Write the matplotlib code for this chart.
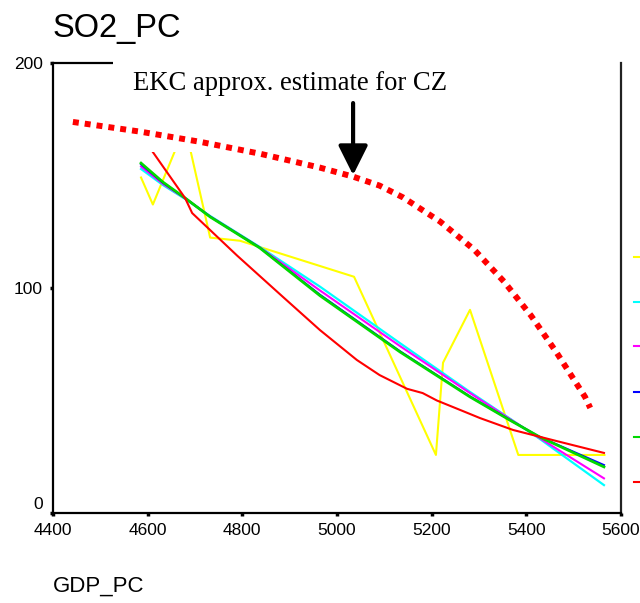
import matplotlib
matplotlib.use("Agg")
import matplotlib.pyplot as plt
from matplotlib.patches import Rectangle
from matplotlib.lines import Line2D
from matplotlib.transforms import ScaledTranslation

# ---------------- data ----------------
X_TICKS = [4400, 4600, 4800, 5000, 5200, 5400, 5600]
Y_TICKS = [0, 100, 200]

# observed series (yellow)
obs_x = [4586, 4611, 4679, 4732, 4795, 5036, 5209, 5224, 5281, 5383, 5565]
obs_y = [149.1, 137.1, 171.8, 122.4, 121.0, 105.0, 25.8, 66.8, 90.3, 25.8, 25.8]

# fitted series
fit_x = [4586, 4632, 4679, 4732, 4837, 4964, 5133, 5281, 5365, 5428, 5564]
cyan_y = [152.9, 145.8, 139.6, 132.0, 118.2, 100.6, 75.5, 53.8, 42.0, 33.0, 12.4]
magenta_y = [154.0, 146.3, 139.8, 131.8, 118.0, 98.9, 74.2, 53.3, 41.8, 33.3, 15.4]
blue_y = [155.0, 146.8, 140.0, 131.7, 117.9, 97.0, 71.9, 51.8, 41.4, 33.8, 21.3]
green_y = [155.5, 147.1, 140.0, 131.6, 117.8, 96.6, 71.6, 51.6, 41.3, 33.8, 20.5]

red_x = [4611, 4679, 4694, 4789, 4886, 4964, 5042, 5090, 5148, 5181, 5211, 5266,
         5302, 5372, 5456, 5564]
red_y = [160.4, 140.0, 133.3, 114.4, 96.0, 81.3, 68.0, 61.3, 55.2, 53.3, 50.0, 45.3,
         42.2, 36.9, 32.4, 26.7]

# EKC approximate estimate (dotted red curve)
ekc_x = [4442, 4584, 4710, 4837, 4964, 5034, 5090, 5140, 5218, 5290, 5353, 5410,
         5463, 5524, 5535]
ekc_y = [173.8, 169.5, 165.0, 159.7, 153.5, 149.5, 145.5, 140.2, 129.5, 117.0, 102.8,
         87.7, 71.6, 51.6, 46.7]
arrow_x = 5034
arrow_tip_y = 150.2
arrow_top_y = 182.2

series_colors = ['#FFFF00', '#00FFFF', '#FF00FF', '#0000FF', '#00D800', '#FF0000']

# ---------------- figure ----------------
W, H = 640, 603
fig = plt.figure(figsize=(W / 100, H / 100), dpi=100)
fig.patch.set_facecolor('white')
ax = fig.add_axes([53 / W, 1 - 513 / H, (621 - 53) / W, (513 - 63) / H])
ax.set_xlim(4400, 5600)
ax.set_ylim(0, 200)

fam = ['Liberation Sans', 'DejaVu Sans']

ax.plot(obs_x, obs_y, color=series_colors[0], lw=1.5, zorder=2)
ax.plot(fit_x, cyan_y, color=series_colors[1], lw=1.6, zorder=2)
ax.plot(fit_x, magenta_y, color=series_colors[2], lw=1.5, zorder=2)
ax.plot(fit_x, blue_y, color=series_colors[3], lw=1.5, zorder=2)
ax.plot(fit_x, green_y, color=series_colors[4], lw=2.0, zorder=2)
ax.plot(red_x, red_y, color=series_colors[5], lw=1.5, zorder=2)

# white overlay region (as in reference, hides the top of the plot)
ax.add_patch(Rectangle((113 / W, 1 - 152 / H), (619 - 113) / W, (152 - 50) / H,
                       transform=fig.transFigure, facecolor='white', edgecolor='none',
                       zorder=3, clip_on=False))

# EKC dotted curve
ax.plot(ekc_x, ekc_y, color='#FF0000', lw=4.3, linestyle=(0, (1, 1)),
        dash_capstyle='butt', zorder=5, clip_on=False)

ax.annotate('', xy=(arrow_x, arrow_tip_y), xytext=(arrow_x, arrow_top_y),
            arrowprops=dict(arrowstyle='-|>,head_length=1.0,head_width=0.5',
                            lw=3, color='black', mutation_scale=18,
                            shrinkA=0, shrinkB=0),
            zorder=6, annotation_clip=False)

fig.text(133 / W, 1 - 90 / H, 'EKC approx. estimate for CZ',
         family=['Liberation Serif', 'DejaVu Serif'], fontsize=19.2,
         ha='left', va='baseline', zorder=7)

# spines
for s in ['left', 'bottom', 'right']:
    ax.spines[s].set_linewidth(1.6)
    ax.spines[s].set_color('black')
ax.spines['right'].set_color('#222222')
ax.spines['top'].set_visible(False)
ax.plot([4400, 4527], [200, 200], color='black', lw=1.6, clip_on=False, zorder=4,
        solid_capstyle='butt')

ax.set_xticks(X_TICKS)
ax.set_yticks(Y_TICKS)
ax.set_xticklabels([str(v) for v in X_TICKS], family=fam, fontsize=12.5)
ax.set_yticklabels([str(v) for v in Y_TICKS], family=fam, fontsize=12.5)
ax.tick_params(axis='both', direction='out', length=2.5, width=2.5, color='black', pad=5)
ax.tick_params(axis='x', top=False)
ax.tick_params(axis='y', right=False)

# shift the "0" label upward as in the reference
fig.canvas.draw()
lbl0 = ax.yaxis.get_major_ticks()[0].label1
lbl0.set_transform(lbl0.get_transform() + ScaledTranslation(0, 10 / 100, fig.dpi_scale_trans))

# title and axis label
fig.text(53 / W, 1 - 37 / H, 'SO2_PC', family=fam, fontsize=23.5, ha='left', va='baseline')
fig.text(53 / W, 1 - 592 / H, 'GDP_PC', family=fam, fontsize=16, ha='left', va='baseline')

# legend handles (labels fall outside the canvas in the reference)
leg_y = [257, 302, 346, 392, 437, 482]
for c, yy in zip(series_colors, leg_y):
    fig.add_artist(Line2D([634 / W, 1.0], [1 - yy / H, 1 - yy / H], color=c, lw=1.5,
                          transform=fig.transFigure))

fig.savefig('out.png', dpi=100, facecolor='white')
